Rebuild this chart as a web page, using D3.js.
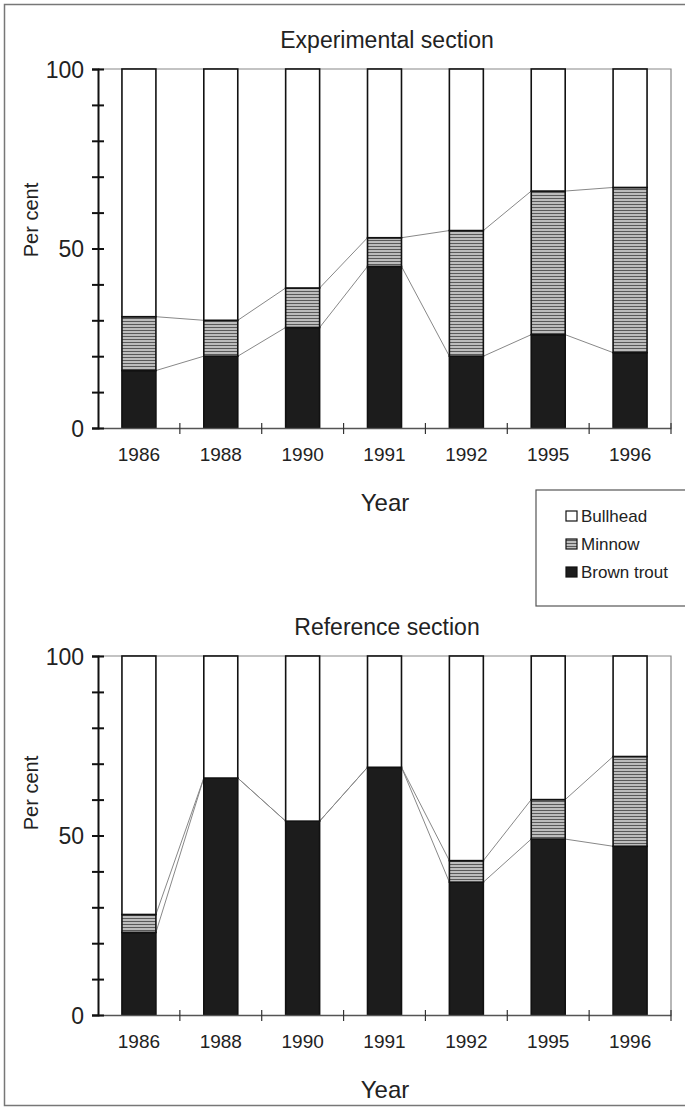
<!DOCTYPE html>
<html>
<head>
<meta charset="utf-8">
<script src="https://cdn.jsdelivr.net/npm/d3@7"></script>
<style>
  body { margin: 0; background: #fff; }
  svg text { font-family: "Liberation Sans", Arial, sans-serif; fill: #222; }
</style>
</head>
<body>
<div id="chart"></div>
<script>
// data (per cent)
var years = ["1986", "1988", "1990", "1991", "1992", "1995", "1996"];
var expTrout    = [16, 20, 28, 45, 20, 26, 21];
var expMinnow   = [15, 10, 11, 8, 35, 40, 46];
var expBullhead = [69, 70, 61, 47, 45, 34, 33];
var refTrout    = [23, 66, 54, 69, 37, 49, 47];
var refMinnow   = [5, 0, 0, 0, 6, 11, 25];
var refBullhead = [72, 34, 46, 31, 57, 40, 28];
var species = ["Bullhead", "Minnow", "Brown trout"];
var yTicks = [0, 10, 20, 30, 40, 50, 60, 70, 80, 90, 100];
var yLabels = [0, 50, 100];

var W = 685, H = 1108;
var svg = d3.select("#chart").append("svg")
  .attr("width", W).attr("height", H);

// minnow hatch: horizontal grey stripes
var defs = svg.append("defs");
var pat = defs.append("pattern")
  .attr("id", "minnow").attr("patternUnits", "userSpaceOnUse")
  .attr("width", 6).attr("height", 3);
pat.append("rect").attr("width", 6).attr("height", 3).attr("fill", "#bdbdbd");
pat.append("rect").attr("width", 6).attr("height", 1).attr("fill", "#5a5a5a");

var fills = { "Bullhead": "#fff", "Minnow": "url(#minnow)", "Brown trout": "#1c1c1c" };

// outer frame
svg.append("rect")
  .attr("x", 4.5).attr("y", 4.5).attr("width", 700).attr("height", 1101)
  .attr("fill", "none").attr("stroke", "#777").attr("stroke-width", 1.5);

function drawPanel(top, title, trout, minnow, bullhead, labelY) {
  var left = 98, right = 671;
  var y = d3.scaleLinear().domain([0, 100]).range([top + 359, top]);
  var x = d3.scaleBand().domain(years).range([left, right]).padding(0);
  var bw = x.bandwidth() * 0.415;

  var g = svg.append("g");

  g.append("text")
    .attr("x", 387).attr("y", top - 21)
    .attr("text-anchor", "middle").attr("font-size", "23px")
    .text(title);

  // frame top and right
  g.append("path")
    .attr("d", "M" + left + "," + y(100) + "H" + right + "V" + y(0))
    .attr("fill", "none").attr("stroke", "#888").attr("stroke-width", 1.2);

  var rows = years.map(function(yr, i) {
    return { year: yr, "Brown trout": trout[i], "Minnow": minnow[i], "Bullhead": bullhead[i] };
  });
  var stack = d3.stack().keys(["Brown trout", "Minnow", "Bullhead"])(rows);

  // series lines between bars
  [0, 1].forEach(function(k) {
    var s = stack[k];
    for (var i = 0; i < years.length - 1; i++) {
      var x1 = x(years[i]) + x.bandwidth() / 2 + bw / 2;
      var x2 = x(years[i + 1]) + x.bandwidth() / 2 - bw / 2;
      g.append("line")
        .attr("x1", x1).attr("y1", y(s[i][1]))
        .attr("x2", x2).attr("y2", y(s[i + 1][1]))
        .attr("stroke", "#888").attr("stroke-width", 1);
    }
  });

  stack.forEach(function(s) {
    g.append("g").selectAll("rect")
      .data(s)
      .enter()
      .append("rect")
      .attr("x", function(d) { return x(d.data.year) + x.bandwidth() / 2 - bw / 2; })
      .attr("y", function(d) { return y(d[1]); })
      .attr("width", bw)
      .attr("height", function(d) { return y(d[0]) - y(d[1]); })
      .attr("fill", fills[s.key])
      .attr("stroke", "#111").attr("stroke-width", 1.6);
  });

  // x axis
  var xa = g.append("g").attr("transform", "translate(0," + y(0) + ")")
    .call(d3.axisBottom(x).tickSize(0).tickPadding(20));
  xa.select(".domain").attr("stroke", "#555").attr("stroke-width", 1.5);
  xa.selectAll("text").attr("font-size", "19px").attr("fill", "#222")
    .style("font-family", "Liberation Sans, Arial, sans-serif");
  years.slice(1).concat(["end"]).forEach(function(d) {
    var bx = d === "end" ? right : x(d);
    xa.append("line").attr("x1", bx).attr("x2", bx).attr("y1", -5).attr("y2", 6)
      .attr("stroke", "#333").attr("stroke-width", 1.2);
  });

  // y axis, ticks cross the line
  var ya = g.append("g").attr("transform", "translate(" + left + ",0)")
    .call(d3.axisLeft(y).tickValues(yTicks).tickSize(6).tickPadding(8)
      .tickFormat(function(d) { return yLabels.indexOf(d) >= 0 ? d : ""; }));
  ya.select(".domain").attr("stroke", "#111").attr("stroke-width", 2);
  ya.selectAll(".tick line").attr("stroke", "#111").attr("stroke-width", 2)
    .attr("x2", -6).attr("x1", 6);
  ya.selectAll("text").attr("font-size", "23px").attr("fill", "#222")
    .attr("dy", "0.36em")
    .style("font-family", "Liberation Sans, Arial, sans-serif");

  g.append("text")
    .attr("transform", "translate(38," + labelY + ") rotate(-90)")
    .attr("text-anchor", "middle").attr("font-size", "20px")
    .text("Per cent");

  g.append("text")
    .attr("x", 385).attr("y", y(0) + 83)
    .attr("text-anchor", "middle").attr("font-size", "24px")
    .text("Year");
}

drawPanel(69, "Experimental section", expTrout, expMinnow, expBullhead, 220);
drawPanel(656, "Reference section", refTrout, refMinnow, refBullhead, 793);

// legend
var lg = svg.append("g");
lg.append("rect")
  .attr("x", 536).attr("y", 490).attr("width", 160).attr("height", 116)
  .attr("fill", "#fff").attr("stroke", "#555").attr("stroke-width", 1.2);
species.forEach(function(s, i) {
  var cy = 516 + i * 28;
  lg.append("rect")
    .attr("x", 566).attr("y", cy - 5).attr("width", 11).attr("height", 10)
    .attr("fill", fills[s]).attr("stroke", "#111").attr("stroke-width", 1.2);
  lg.append("text")
    .attr("x", 581).attr("y", cy + 6)
    .attr("font-size", "17px")
    .text(s);
});
</script>
</body>
</html>
